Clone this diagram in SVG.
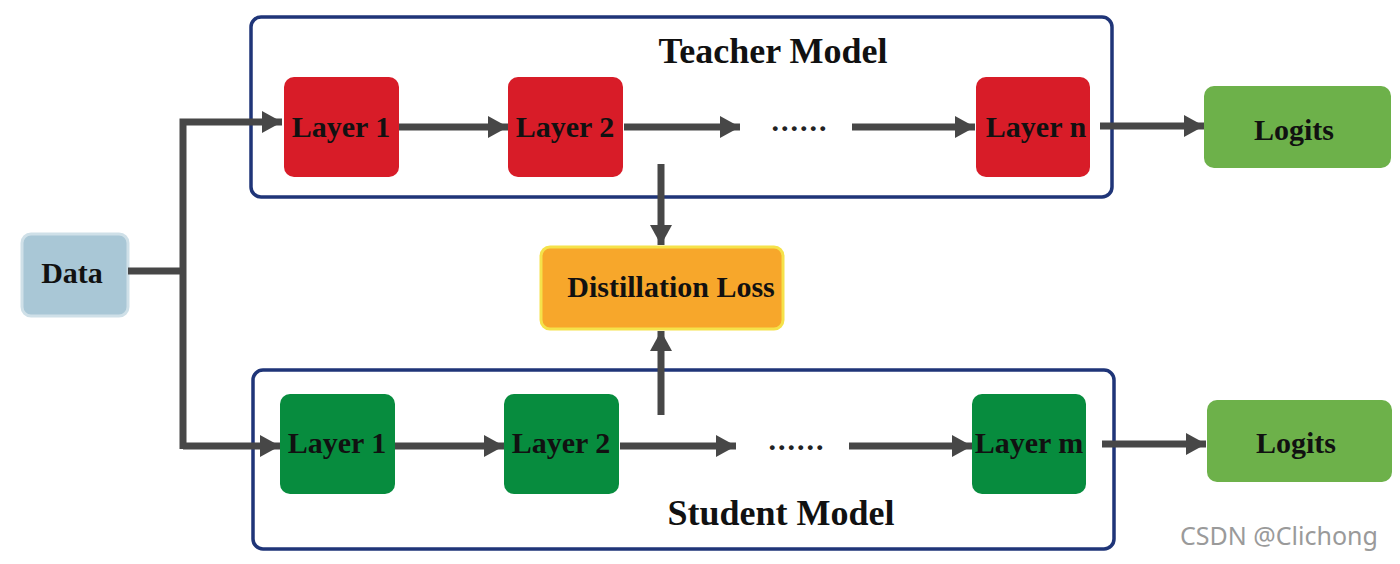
<svg xmlns="http://www.w3.org/2000/svg" width="1400" height="564" viewBox="0 0 1400 564">
<style>
.frame{fill:#fff;stroke:#1f3578;stroke-width:3.5}
.t{fill:#d81c28}
.s{fill:#078c3e}
.lg{fill:#6db14a}
.lbl{font-family:"Liberation Serif",serif;font-weight:bold;font-size:30px;fill:#111;text-anchor:middle}
.ttl{font-family:"Liberation Serif",serif;font-weight:bold;font-size:36px;fill:#111;text-anchor:middle}
.ln{fill:none;stroke:#474747;stroke-width:7}
.dots{font-family:"Liberation Serif",serif;font-weight:bold;font-size:30px;letter-spacing:2px;fill:#222;text-anchor:middle}
</style>
<defs>
<marker id="ah" markerUnits="userSpaceOnUse" markerWidth="22" markerHeight="24" refX="20" refY="11" orient="auto">
<path d="M0,0 L20,11 L0,22 Z" fill="#474747"/>
</marker>
</defs>
<rect width="1400" height="564" fill="#fff"/>
<g id="teacher">
<rect class="frame" x="251" y="17" width="861" height="180" rx="10"/>
<text class="ttl" x="773" y="63">Teacher Model</text>
</g>
<g id="student">
<rect class="frame" x="253" y="370" width="861" height="179" rx="10"/>
<text class="ttl" x="781" y="525">Student Model</text>
</g>
<g id="data">
<rect x="22" y="234" width="106" height="82" rx="9" fill="#a9c7d6" stroke="#cfe0e8" stroke-width="3"/>
<text class="lbl" x="72" y="283">Data</text>
</g>
<g id="t1"><rect class="t" x="284" y="77" width="115" height="100" rx="10"/><text class="lbl" x="341" y="137">Layer 1</text></g>
<g id="t2"><rect class="t" x="508" y="77" width="115" height="100" rx="10"/><text class="lbl" x="565" y="137">Layer 2</text></g>
<g id="tn"><rect class="t" x="976" y="77" width="114" height="100" rx="10"/><text class="lbl" x="1036" y="137">Layer n</text></g>
<g id="tlog"><rect class="lg" x="1204" y="86" width="187" height="82" rx="10"/><text class="lbl" x="1294" y="140">Logits</text></g>
<g id="s1"><rect class="s" x="280" y="394" width="115" height="100" rx="10"/><text class="lbl" x="337" y="453">Layer 1</text></g>
<g id="s2"><rect class="s" x="504" y="394" width="115" height="100" rx="10"/><text class="lbl" x="561" y="453">Layer 2</text></g>
<g id="sm"><rect class="s" x="972" y="394" width="114" height="100" rx="10"/><text class="lbl" x="1029" y="453">Layer m</text></g>
<g id="slog"><rect class="lg" x="1207" y="400" width="185" height="82" rx="10"/><text class="lbl" x="1296" y="453">Logits</text></g>
<g id="loss">
<rect x="541" y="247" width="242" height="82" rx="9" fill="#f7a72b" stroke="#f5e24a" stroke-width="3"/>
<text class="lbl" x="671" y="297">Distillation Loss</text>
</g>
<g id="ellipses">
<text class="dots" x="800" y="131">......</text>
<text class="dots" x="797" y="450">......</text>
</g>
<g id="connectors">
<path class="ln" d="M128,271 H183"/>
<path class="ln" d="M183,449 V122 H282" marker-end="url(#ah)"/>
<path class="ln" d="M183,446 H280" marker-end="url(#ah)"/>
<path class="ln" d="M399,127 H508" marker-end="url(#ah)"/>
<path class="ln" d="M624,127 H740" marker-end="url(#ah)"/>
<path class="ln" d="M852,127 H975" marker-end="url(#ah)"/>
<path class="ln" d="M1100,126 H1204" marker-end="url(#ah)"/>
<path class="ln" d="M661,164 V245" marker-end="url(#ah)"/>
<path class="ln" d="M661,415 V331" marker-end="url(#ah)"/>
<path class="ln" d="M395,446 H504" marker-end="url(#ah)"/>
<path class="ln" d="M620,446 H736" marker-end="url(#ah)"/>
<path class="ln" d="M849,446 H972" marker-end="url(#ah)"/>
<path class="ln" d="M1102,444 H1206" marker-end="url(#ah)"/>
</g>
<text x="1279" y="545" font-family="'Noto Sans','DejaVu Sans',sans-serif" font-size="25" fill="#9a9a9a" text-anchor="middle">CSDN @Clichong</text>
</svg>
